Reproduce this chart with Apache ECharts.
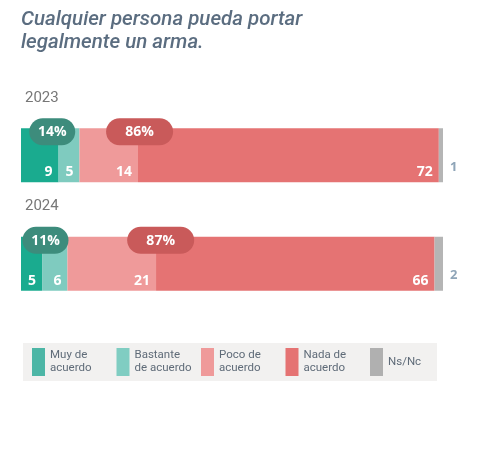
<!DOCTYPE html>
<html>
<head>
<meta charset="utf-8">
<script src="https://cdn.jsdelivr.net/npm/echarts@6/dist/echarts.min.js"></script>
<style>html,body{margin:0;padding:0;background:#fff}#c{width:481px;height:462px}</style>
</head>
<body>
<div id="c"></div>
<script>
const years = ['2023', '2024'];
const seriesNames = ['Muy de\nacuerdo', 'Bastante\nde acuerdo', 'Poco de\nacuerdo', 'Nada de\nacuerdo', 'Ns/Nc'];
const muyDeAcuerdo = [9, 5];
const bastanteDeAcuerdo = [5, 6];
const pocoDeAcuerdo = [14, 21];
const nadaDeAcuerdo = [72, 66];
const nsNc = [1, 2];
const acuerdoTotal = ['14%', '11%'];
const desacuerdoTotal = ['86%', '87%'];
// pill centres (in % of bar width)
const acuerdoPillX = [7.4, 5.8];
const desacuerdoPillX = [28.1, 33.1];

const barColors = ['#1aab8f', '#7fcbbf', '#ef9a9a', '#e57373', '#b5b5b5'];
const legendColors = ['#4db6a6', '#80cdc2', '#ef9a9a', '#e57373', '#b0b0b0'];

const raw = [muyDeAcuerdo, bastanteDeAcuerdo, pocoDeAcuerdo, nadaDeAcuerdo, nsNc];
const totals = years.map((_, i) => raw.reduce((s, arr) => s + arr[i], 0));

const barSeries = raw.map((arr, k) => ({
  name: seriesNames[k],
  type: 'bar',
  stack: 'all',
  barWidth: 54,
  itemStyle: { color: barColors[k] },
  data: arr.map((v, i) => ({ value: v / totals[i] * 100, raw: v })),
  label: k < 4 ? {
    show: true,
    position: 'insideBottomRight',
    distance: 3,
    offset: [-3, 0],
    color: '#fff',
    fontFamily: 'Open Sans',
    fontWeight: 'bold',
    fontSize: 14,
    formatter: p => p.data.raw
  } : {
    show: true,
    position: 'right',
    distance: 7,
    offset: [0, 12],
    color: '#8fa5b8',
    fontFamily: 'Open Sans',
    fontWeight: 'bold',
    fontSize: 13,
    formatter: p => p.data.raw
  }
}));

function pillSeries(name, xs, texts, color, w) {
  return {
    name: name,
    type: 'custom',
    z: 10,
    clip: false,
    data: xs.map((x, i) => [x, i, texts[i]]),
    encode: { x: 0, y: 1 },
    renderItem: function (params, api) {
      const c = api.coord([api.value(0), api.value(1)]);
      const cx = c[0];
      const cy = c[1] - 27 + 3.5;
      const h = 27;
      return {
        type: 'group',
        children: [
          { type: 'rect', shape: { x: cx - w / 2, y: cy - h / 2, width: w, height: h, r: h / 2 }, style: { fill: color } },
          { type: 'text', style: { x: cx, y: cy + 0.5, text: api.value(2), fill: '#fff', font: 'bold 14px "Open Sans"', align: 'center', verticalAlign: 'middle' } }
        ]
      };
    }
  };
}

const chart = echarts.init(document.getElementById('c'), null, { renderer: 'canvas' });
chart.setOption({
  animation: false,
  title: {
    text: 'Cualquier persona pueda portar\nlegalmente un arma.',
    left: 21,
    top: 8,
    padding: 0,
    textStyle: { fontFamily: 'Roboto', fontStyle: 'italic', fontWeight: 500, fontSize: 20.5, lineHeight: 23, color: '#5b6d80' }
  },
  grid: { left: 21, right: 38, top: 101, bottom: 144, containLabel: false },
  xAxis: { type: 'value', min: 0, max: 100, show: false },
  yAxis: {
    type: 'category',
    data: years,
    inverse: true,
    axisLine: { show: false },
    axisTick: { show: false },
    axisLabel: {
      inside: true,
      margin: 4,
      verticalAlign: 'bottom',
      padding: [0, 0, 50, 0],
      color: '#777',
      fontFamily: 'Roboto',
      fontSize: 15
    }
  },
  legend: {
    left: 23,
    top: 343,
    padding: [5, 0, 5, 9],
    backgroundColor: '#f2f1f0',
    itemWidth: 13,
    itemHeight: 28,
    itemGap: 6.5,
    icon: 'rect',
    selectedMode: false,
    textStyle: { fontFamily: 'Roboto', fontSize: 11.5, lineHeight: 13, color: '#5f6b78', width: 60 },
    data: seriesNames.map((n, k) => ({
      name: n,
      itemStyle: { color: legendColors[k] },
      textStyle: k === 4 ? { width: 49 } : { width: 60 }
    }))
  },
  series: barSeries.concat([
    pillSeries('acuerdo', acuerdoPillX, acuerdoTotal, '#3d8c7c', 46),
    pillSeries('desacuerdo', desacuerdoPillX, desacuerdoTotal, '#c95a5a', 67)
  ])
});
</script>
</body>
</html>
